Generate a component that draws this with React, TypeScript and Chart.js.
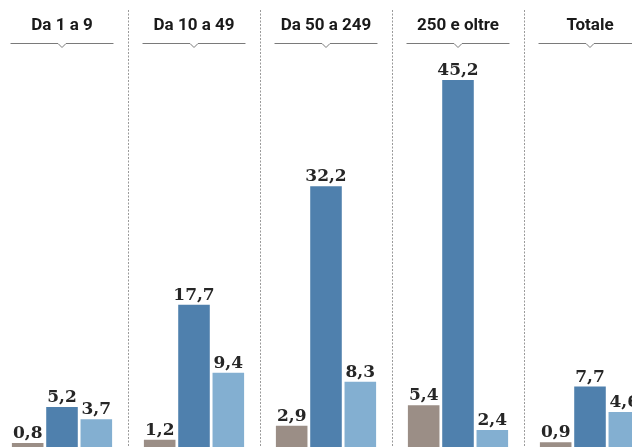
import React, { useEffect, useRef } from "react";
import { Chart, registerables } from "chart.js";

Chart.register(...registerables);

const categories = ["Da 1 a 9", "Da 10 a 49", "Da 50 a 249", "250 e oltre", "Totale"];
const seriesBrown = [0.8, 1.2, 2.9, 5.4, 0.9];
const seriesDark = [5.2, 17.7, 32.2, 45.2, 7.7];
const seriesLight = [3.7, 9.4, 8.3, 2.4, 4.6];

const colors = ["#9b8e86", "#4f80ad", "#83afd1"];

const decoPlugin = {
  id: "deco",
  beforeDatasetsDraw(chart: any) {
    const ctx = chart.ctx;
    const xs = chart.scales.x;
    const step = xs.getPixelForValue(1) - xs.getPixelForValue(0);
    ctx.save();
    ctx.strokeStyle = "#9a9a9a";
    ctx.lineWidth = 1;
    ctx.setLineDash([2, 1.5]);
    for (let i = 0; i < categories.length - 1; i++) {
      const px = Math.round(xs.getPixelForValue(i) + step / 2) + 0.5;
      ctx.beginPath();
      ctx.moveTo(px, 10);
      ctx.lineTo(px, chart.height);
      ctx.stroke();
    }
    ctx.setLineDash([]);
    const half = step * 0.39;
    categories.forEach((c, i) => {
      const cx = xs.getPixelForValue(i);
      ctx.fillStyle = "#1a1a1a";
      ctx.font = "700 17px Roboto";
      ctx.textAlign = "center";
      ctx.textBaseline = "alphabetic";
      ctx.fillText(c, cx, 30);
      ctx.strokeStyle = "#7a7a7a";
      ctx.lineWidth = 1;
      const y = 43.5;
      ctx.beginPath();
      ctx.moveTo(cx - half, y);
      ctx.lineTo(cx - 4, y);
      ctx.lineTo(cx, y + 4);
      ctx.lineTo(cx + 4, y);
      ctx.lineTo(cx + half, y);
      ctx.stroke();
    });
    ctx.restore();
  },
  afterDatasetsDraw(chart: any) {
    const ctx = chart.ctx;
    ctx.save();
    ctx.fillStyle = "#262626";
    ctx.font = "bold 17px 'DejaVu Serif'";
    ctx.textAlign = "center";
    ctx.textBaseline = "alphabetic";
    chart.data.datasets.forEach((ds: any, di: number) => {
      const meta = chart.getDatasetMeta(di);
      meta.data.forEach((el: any, i: number) => {
        const v = ds.data[i];
        ctx.fillText(v.toFixed(1).replace(".", ","), el.x, el.y - 5);
      });
    });
    ctx.restore();
  },
};

export default function App() {
  const ref = useRef<HTMLCanvasElement>(null);
  useEffect(() => {
    document.body.style.margin = "0";
    document.body.style.overflow = "hidden";
    const chart = new Chart(ref.current!, {
      type: "bar",
      data: {
        labels: categories,
        datasets: [
          { data: seriesBrown, backgroundColor: colors[0] },
          { data: seriesDark, backgroundColor: colors[1] },
          { data: seriesLight, backgroundColor: colors[2] },
        ],
      },
      options: {
        animation: false,
        responsive: false,
        maintainAspectRatio: false,
        devicePixelRatio: 1,
        layout: { padding: 0 },
        datasets: { bar: { categoryPercentage: 0.78, barPercentage: 0.92 } } as any,
        plugins: { legend: { display: false }, tooltip: { enabled: false } },
        scales: {
          x: { display: false },
          y: { min: 0.306, max: 54.98, display: false },
        },
      },
      plugins: [decoPlugin],
    });
    return () => chart.destroy();
  }, []);
  return (
    <div style={{ width: 632, height: 447, overflow: "hidden", position: "relative", background: "#fff" }}>
      <canvas ref={ref} width={660} height={447} style={{ display: "block", marginLeft: -4 }} />
    </div>
  );
}
